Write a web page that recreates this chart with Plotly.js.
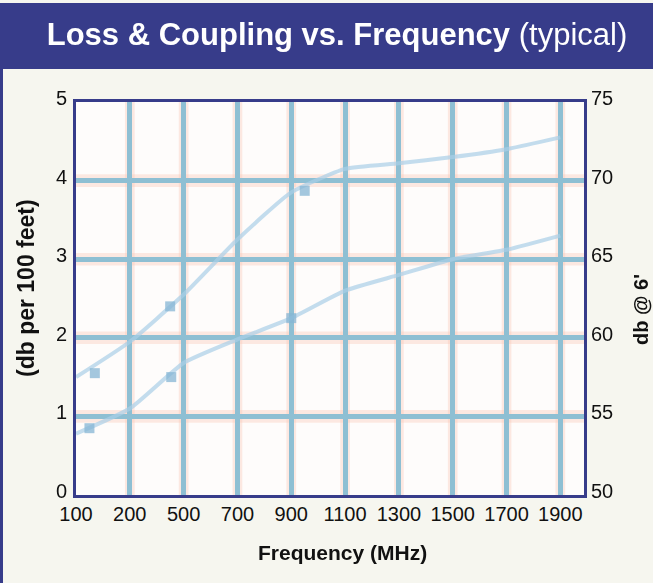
<!DOCTYPE html>
<html>
<head>
<meta charset="utf-8">
<script src="https://cdn.plot.ly/plotly-3.0.1.min.js"></script>
<style>
  html, body { margin: 0; padding: 0; background: #F6F6EF; }
  #chart { width: 653px; height: 583px; }
</style>
</head>
<body>
<div id="chart"></div>
<script>
// ---- Data ----
const categories = ['100', '200', '500', '700', '900', '1100', '1300', '1500', '1700', '1900']; // Frequency (MHz)
const lossUpper  = [1.50, 1.95, 2.55, 3.25, 3.85, 4.15, 4.22, 4.30, 4.40, 4.55]; // upper curve (db per 100 feet)
const lossLower  = [0.78, 1.10, 1.68, 1.98, 2.25, 2.60, 2.80, 3.00, 3.12, 3.30]; // lower curve
// measured points (positions in category-index units along the frequency axis)
const upperPtPos = [0.35, 1.75, 4.25];
const upperPtVal = [1.55, 2.40, 3.87];
const lowerPtPos = [0.25, 1.77, 4.00];
const lowerPtVal = [0.85, 1.50, 2.25];
const leftTicks  = [0, 1, 2, 3, 4, 5];
const rightTicks = [50, 55, 60, 65, 70, 75];

const catPos = categories.map((c, i) => i);

// ---- Geometry helpers (pixel -> paper) ----
const W = 653, H = 583, ML = 76, MR = 69, MT = 102, MB = 88;
const PW = W - ML - MR, PH = H - MT - MB;
const px = x => (x - ML) / PW;
const py = y => (H - MB - y) / PH;

const navy = '#373C8A';
const gridBlue = '#8EBFD3';
const lineBlue = '#A9CFE7';
const font = 'Liberation Sans, Arial, Helvetica, sans-serif';

const traces = [
  { x: catPos, y: lossUpper, mode: 'lines', line: { color: lineBlue, width: 4, shape: 'spline', smoothing: 0.5 }, opacity: 0.7, hoverinfo: 'skip', showlegend: false },
  { x: catPos, y: lossLower, mode: 'lines', line: { color: lineBlue, width: 4, shape: 'spline', smoothing: 0.5 }, opacity: 0.7, hoverinfo: 'skip', showlegend: false },
  { x: upperPtPos, y: upperPtVal, mode: 'markers', marker: { symbol: 'square', size: 10, color: '#86B6D4' }, opacity: 0.75, hoverinfo: 'skip', showlegend: false },
  { x: lowerPtPos, y: lowerPtVal, mode: 'markers', marker: { symbol: 'square', size: 10, color: '#86B6D4' }, opacity: 0.75, hoverinfo: 'skip', showlegend: false },
  // invisible trace to activate the right axis
  { x: [0], y: [rightTicks[0]], yaxis: 'y2', mode: 'markers', marker: { opacity: 0 }, hoverinfo: 'skip', showlegend: false }
];

const shapes = [];
// header bar
shapes.push({ type: 'rect', xref: 'paper', yref: 'paper', x0: px(0), x1: px(W), y0: py(69), y1: py(3), fillcolor: navy, line: { width: 0 }, layer: 'below' });
// left page border
shapes.push({ type: 'rect', xref: 'paper', yref: 'paper', x0: px(0), x1: px(3), y0: py(H), y1: py(69), fillcolor: navy, line: { width: 0 }, layer: 'below' });
// faint pink bands beside the grid lines
catPos.slice(1).forEach(v => shapes.push({ type: 'rect', xref: 'x', yref: 'paper', x0: v - 0.09, x1: v + 0.09, y0: 0, y1: 1, fillcolor: 'rgba(248,196,178,0.35)', line: { width: 0 }, layer: 'below' }));
leftTicks.slice(1, -1).forEach(v => shapes.push({ type: 'rect', xref: 'paper', yref: 'y', x0: 0, x1: 1, y0: v - 0.08, y1: v + 0.08, fillcolor: 'rgba(248,196,178,0.35)', line: { width: 0 }, layer: 'below' }));

const annotations = [
  { text: '<b>(db per 100 feet)</b>', xref: 'paper', yref: 'paper', x: px(26), y: py(288), xanchor: 'center', yanchor: 'middle', textangle: -90, showarrow: false, font: { family: font, size: 23, color: '#111' } },
  { text: "<b>db @ 6'</b>", xref: 'paper', yref: 'paper', x: px(641), y: py(310), xanchor: 'center', yanchor: 'middle', textangle: -90, showarrow: false, font: { family: font, size: 20, color: '#111' } },
  { text: '<b>Frequency (MHz)</b>', xref: 'paper', yref: 'paper', x: px(342), y: py(552), xanchor: 'center', yanchor: 'middle', showarrow: false, font: { family: font, size: 21, color: '#111' } }
];

const layout = {
  width: W, height: H,
  margin: { l: ML, r: MR, t: MT, b: MB, pad: 0 },
  paper_bgcolor: '#F6F6EF',
  plot_bgcolor: '#FEFCFB',
  title: {
    text: '<b>Loss & Coupling vs. Frequency</b> (typical)',
    font: { family: font, size: 31, color: '#FFFFFF' },
    x: 337 / W, xanchor: 'center', xref: 'container',
    y: 1 - 34 / H, yanchor: 'middle', yref: 'container'
  },
  xaxis: {
    type: 'linear', range: [0, 9.44],
    tickmode: 'array', tickvals: catPos, ticktext: categories,
    showgrid: true, gridcolor: gridBlue, gridwidth: 5,
    zeroline: false, showline: true, linecolor: navy, linewidth: 3, mirror: true,
    ticks: '', tickfont: { family: font, size: 20, color: '#111' },
    ticklabelstandoff: -1,
    fixedrange: true
  },
  yaxis: {
    range: [0, 5], tickmode: 'array', tickvals: leftTicks,
    showgrid: true, gridcolor: gridBlue, gridwidth: 5,
    zeroline: false, showline: true, linecolor: navy, linewidth: 3, mirror: true,
    ticks: '', tickfont: { family: font, size: 20, color: '#111' },
    ticklabelstandoff: 2, ticklabelshift: -4,
    fixedrange: true
  },
  yaxis2: {
    overlaying: 'y', side: 'right', range: [50, 75],
    tickmode: 'array', tickvals: rightTicks,
    showgrid: false, zeroline: false, showline: false,
    ticks: '', tickfont: { family: font, size: 20, color: '#111' },
    ticklabelstandoff: 6, ticklabelshift: -4,
    fixedrange: true
  },
  shapes: shapes,
  annotations: annotations,
  showlegend: false
};

Plotly.newPlot('chart', traces, layout, { displayModeBar: false, staticPlot: true });
</script>
</body>
</html>
